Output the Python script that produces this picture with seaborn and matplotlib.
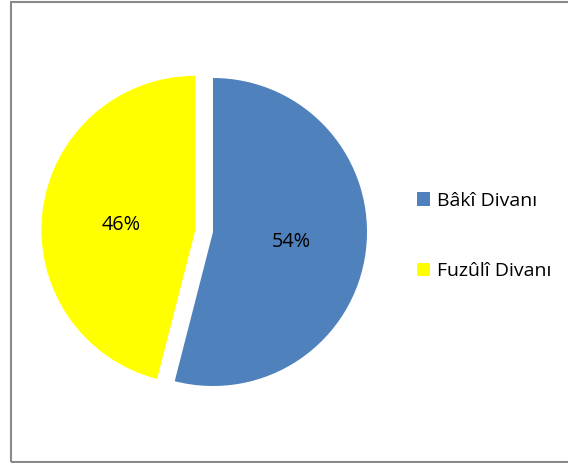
import matplotlib
matplotlib.use("Agg")
import matplotlib.pyplot as plt
import seaborn as sns
from matplotlib.patches import Rectangle, Patch

categories = ["Bâkî Divanı", "Fuzûlî Divanı"]
values = [54, 46]
colors = ["#4F81BD", "#FFFF00"]

sns.set_theme(style="white")
plt.rcParams["font.family"] = ["Open Sans", "DejaVu Sans"]
plt.rcParams["text.color"] = "black"

W, H = 568, 463
fig = plt.figure(figsize=(W / 100, H / 100), dpi=100)
ax = fig.add_axes([0, 0, 1, 1])

R = 154
wedges, texts, autotexts = ax.pie(
    values,
    colors=colors,
    startangle=90,
    counterclock=False,
    explode=[0, 0.115 * R],
    center=(213, H - 232),
    radius=R,
    autopct=lambda p: f"{p:.0f}%",
    pctdistance=0.51,
    textprops=dict(fontsize=14.3, color="black"),
    wedgeprops=dict(linewidth=0),
    frame=True,
)
# small nudge of the second percentage label toward the reference spot
x1, y1 = autotexts[1].get_position()
autotexts[1].set_position((x1 + 4, y1 - 5))

ax.set_xlim(0, W)
ax.set_ylim(0, H)
ax.set_aspect("equal")
ax.axis("off")

handles = [Patch(facecolor=c, edgecolor="none") for c in colors]
leg = fig.legend(
    handles, categories,
    loc="upper left",
    bbox_to_anchor=(407 / W, 1 - 182 / H),
    frameon=False,
    fontsize=14,
    labelcolor="black",
    handlelength=0.68,
    handleheight=0.68,
    handletextpad=0.36,
    labelspacing=2.7,
    borderpad=0,
)

border = Rectangle((10.5 / W, 1.5 / H), 1.2, (461 - 1.5) / H,
                   transform=fig.transFigure, fill=False,
                   edgecolor="#898989", linewidth=1.5)
fig.patches.append(border)

fig.savefig("out.png", dpi=100, facecolor="white")
